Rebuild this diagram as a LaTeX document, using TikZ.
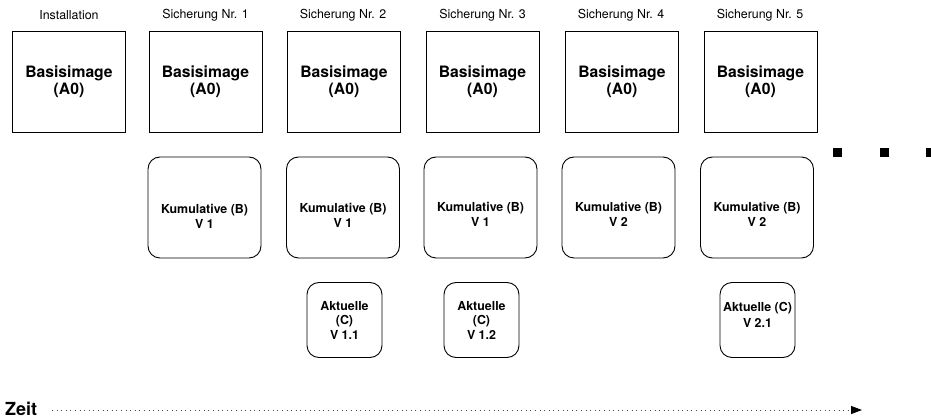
\documentclass[tikz,border=0pt]{standalone}
\usepackage{fontspec}
\setmainfont{TeX Gyre Heros}
\usetikzlibrary{arrows.meta}
\begin{document}
\begin{tikzpicture}[x=1pt,y=-1pt,
  basebox/.style={draw, line width=0.9pt, minimum width=113pt, minimum height=101pt, inner sep=0pt,
    font=\bfseries\fontsize{15.7}{17.5}\selectfont, align=center},
  toplabel/.style={inner sep=0pt, font=\fontsize{12.4}{14}\selectfont},
  kumbox/.style={draw, line width=0.9pt, rounded corners=12pt, minimum width=113pt, minimum height=101pt, inner sep=0pt},
  kumtext/.style={inner sep=0pt, align=center, font=\bfseries\fontsize{12.4}{15}\selectfont},
  aktbox/.style={draw, line width=0.9pt, rounded corners=12pt, minimum width=75pt, minimum height=75pt, inner sep=0pt,
    align=center, font=\bfseries\fontsize{12.4}{14.5}\selectfont},
  akttext/.style={inner sep=0pt, align=center, font=\bfseries\fontsize{12.4}{15.5}\selectfont},
  dotsq/.style={fill=black, minimum size=9pt, inner sep=0pt}
]
\useasboundingbox (0,0) rectangle (931,419);

% top labels
\node[toplabel] (l0) at (69,15) {Installation};
\node[toplabel] (l1) at (205.5,15) {Sicherung Nr. 1};
\node[toplabel] (l2) at (343,15) {Sicherung Nr. 2};
\node[toplabel] (l3) at (482.5,15) {Sicherung Nr. 3};
\node[toplabel] (l4) at (621,15) {Sicherung Nr. 4};
\node[toplabel] (l5) at (760,15) {Sicherung Nr. 5};

% base images
\node[basebox] (a0) at (69,81.5) {Basisimage\\(A0)};
\node[basebox] (a1) at (205.5,81.5) {Basisimage\\(A0)};
\node[basebox] (a2) at (344,81.5) {Basisimage\\(A0)};
\node[basebox] (a3) at (482.5,81.5) {Basisimage\\(A0)};
\node[basebox] (a4) at (622,81.5) {Basisimage\\(A0)};
\node[basebox] (a5) at (760.5,81.5) {Basisimage\\(A0)};

% cumulative
\node[kumbox] (b1) at (204.5,207.5) {};
\node[kumbox] (b2) at (343,207.5) {};
\node[kumbox] (b3) at (480.5,207.5) {};
\node[kumbox] (b4) at (618.5,207.5) {};
\node[kumbox] (b5) at (757,207.5) {};
\node[kumtext] (bt1) at (204.5,216) {Kumulative (B)\\V 1};
\node[kumtext] (bt2) at (343,215) {Kumulative (B)\\V 1};
\node[kumtext] (bt3) at (480.5,214.5) {Kumulative (B)\\V 1};
\node[kumtext] (bt4) at (618.5,214.5) {Kumulative (B)\\V 2};
\node[kumtext] (bt5) at (757,214) {Kumulative (B)\\V 2};

% current
\node[aktbox] (c1) at (344.5,320) {Aktuelle\\(C)\\V 1.1};
\node[aktbox] (c2) at (481.5,320) {Aktuelle\\(C)\\V 1.2};
\node[aktbox] (c3) at (757.5,320) {};
\node[akttext] (ct3) at (757.5,315) {Aktuelle (C)\\V 2.1};

% continuation squares
\node[dotsq] (d1) at (837.5,152.5) {};
\node[dotsq] (d2) at (884,152.5) {};
\node[dotsq] (d3) at (930.5,152.5) {};

% time axis
\node[anchor=base west, inner sep=0pt, font=\bfseries\fontsize{18}{20}\selectfont] (zeit) at (5,415) {Zeit};
\coordinate (tstart) at (52,410);
\coordinate (tend) at (862,410);
\draw[gray!60!black, line width=0.8pt, dash pattern=on 0.8pt off 3.8pt,
  -{Triangle[length=11pt,width=8pt,black,sep=0pt]}] (tstart) -- (tend);
\end{tikzpicture}
\end{document}
